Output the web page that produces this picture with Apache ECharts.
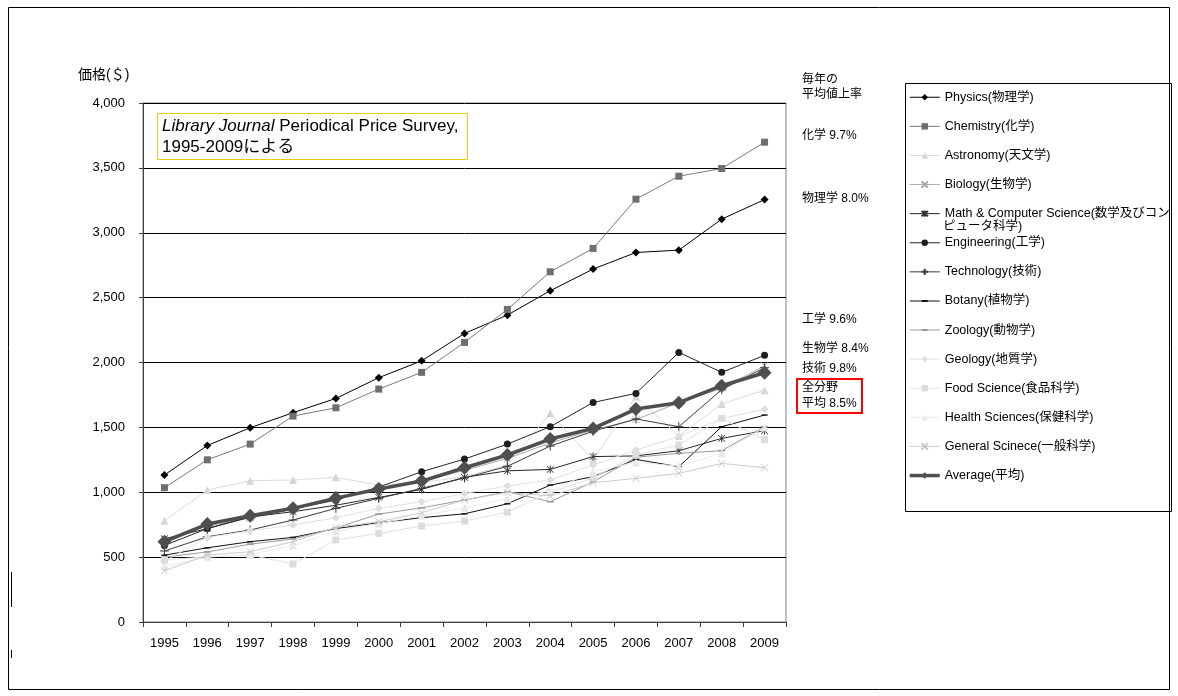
<!DOCTYPE html>
<html>
<head>
<meta charset="utf-8">
<script src="https://cdn.jsdelivr.net/npm/echarts/dist/echarts.min.js"></script>
<style>
html,body{margin:0;padding:0;background:#fff;}
#chart{width:1178px;height:696px;}
</style>
</head>
<body>
<div id="chart"></div>
<script>
// Average journal price per title, by subject (US$)
const years = ['1995','1996','1997','1998','1999','2000','2001','2002','2003','2004','2005','2006','2007','2008','2009'];
const yTicks = [0, 500, 1000, 1500, 2000, 2500, 3000, 3500, 4000];

const physics     = [1133,1360,1497,1613,1723,1883,2013,2224,2365,2553,2720,2848,2866,3105,3256];
const chemistry   = [1035,1250,1371,1587,1651,1795,1924,2155,2409,2699,2879,3259,3436,3495,3698];
const astronomy   = [781,1017,1089,1094,1115,1055,1075,1120,1210,1608,1250,1736,1433,1680,1787];
const biology     = [640,740,800,870,950,1020,1080,1170,1260,1380,1480,1560,1690,1800,1975];
const mathCs      = [640,720,810,850,900,960,1022,1115,1165,1176,1275,1280,1320,1415,1475];
const engineering = [590,720,810,870,940,1040,1158,1256,1371,1505,1692,1762,2078,1924,2055];
const technology  = [547,657,709,786,876,953,1030,1110,1200,1356,1470,1565,1505,1790,1960];
const botany      = [515,572,619,652,720,765,804,834,911,1055,1120,1253,1197,1505,1595];
const zoology     = [500,540,600,640,725,832,880,940,1004,927,1080,1270,1300,1320,1505];
const geology     = [470,652,703,747,804,876,927,990,1048,1094,1210,1325,1430,1569,1640];
const foodScience = [478,503,516,447,632,683,740,778,847,1000,1110,1287,1364,1569,1405];
const health      = [430,500,520,590,700,760,820,880,950,1010,1160,1230,1202,1300,1500];
const generalSci  = [395,516,542,619,730,773,842,940,999,971,1073,1107,1146,1222,1189];
const average     = [619,755,819,876,955,1025,1086,1189,1287,1410,1492,1641,1690,1821,1921];

const names = ['Physics(物理学)','Chemistry(化学)','Astronomy(天文学)','Biology(生物学)',
  'Math & Computer Science(数学及びコンピュータ科学)','Engineering(工学)','Technology(技術)',
  'Botany(植物学)','Zoology(動物学)','Geology(地質学)','Food Science(食品科学)',
  'Health Sciences(保健科学)','General Scinece(一般科学)','Average(平均)'];
const values = [physics,chemistry,astronomy,biology,mathCs,engineering,technology,
  botany,zoology,geology,foodScience,health,generalSci,average];

// marker shapes
const X_MARK = 'path://M0,0L10,10M10,0L0,10';
const STAR_MARK = 'path://M0,0L10,10M10,0L0,10M5,-1L5,11';
const PLUS_MARK = 'path://M5,0L5,10M0,5L10,5';
const DASH_MARK = 'path://M0,0L10,0L10,2.4L0,2.4Z';
// legend icon for dash markers: 30x8 box holding a line with a short bar on it
const DASH_LEGEND = 'path://M0,0L0.02,0L0,0.02ZM0,3.5L30,3.5L30,4.5L0,4.5ZM12,3L18,3L18,5L12,5ZM30,8L29.98,8L30,7.98Z';

// per-series drawing style: line colour, line width, symbol, size, fill, stroke
const styles = [
  {c:'#000000', w:1, s:'diamond', z:8, fill:'#000000'},
  {c:'#7a7a7a', w:1, s:'rect', z:7, fill:'#6e6e6e'},
  {c:'#dcdcdc', w:1, s:'triangle', z:8, fill:'#d6d6d6'},
  {c:'#ababab', w:1, s:X_MARK, z:7, stroke:'#a8a8a8'},
  {c:'#262626', w:1, s:STAR_MARK, z:8, stroke:'#333333'},
  {c:'#262626', w:1, s:'circle', z:7, fill:'#1e1e1e'},
  {c:'#3a3a3a', w:1, s:PLUS_MARK, z:9, stroke:'#3a3a3a'},
  {c:'#111111', w:1, s:DASH_MARK, z:6, fill:'#111111', legendIcon:DASH_LEGEND},
  {c:'#9a9a9a', w:1, s:DASH_MARK, z:7, fill:'#9a9a9a', legendIcon:DASH_LEGEND},
  {c:'#e2e2e2', w:1, s:'diamond', z:8, fill:'#dedede'},
  {c:'#e2e2e2', w:1, s:'rect', z:7, fill:'#dcdcdc'},
  {c:'#ececec', w:1, s:'triangle', z:8, fill:'#e8e8e8'},
  {c:'#cccccc', w:1, s:X_MARK, z:7, stroke:'#c6c6c6'},
  {c:'#4f4f4f', w:3.5, s:'diamond', z:14, fill:'#4f4f4f'}
];

const FONT = '"Liberation Sans", Arial, "Noto Sans CJK JP", sans-serif';
const LEGEND_FONT = 12.5;
const MATH_LEGEND = 'Math & Computer Science(数学及びコン';

const series = names.map((name, i) => {
  const st = styles[i];
  const itemStyle = st.stroke
    ? {color: 'rgba(0,0,0,0)', borderColor: st.stroke, borderWidth: 1}
    : {color: st.fill, borderColor: st.fill, borderWidth: 0};
  return {
    name: name,
    type: 'line',
    data: values[i],
    symbol: st.s,
    symbolSize: st.z,
    symbolKeepAspect: true,
    showSymbol: true,
    lineStyle: {color: st.c, width: st.w},
    itemStyle: itemStyle,
    emphasis: {disabled: true},
    z: 2 + i
  };
});

const legendData = names.map((name, i) => {
  const item = {name: name};
  if (styles[i].legendIcon) {
    item.icon = styles[i].legendIcon;
    item.itemStyle = {color: styles[i].fill, borderWidth: 0};
  }
  return item;
});

const rightNotes = [
  {t:'毎年の', y:80},
  {t:'平均値上率', y:95},
  {t:'化学 9.7%', y:136},
  {t:'物理学 8.0%', y:199},
  {t:'工学 9.6%', y:320},
  {t:'生物学 8.4%', y:349},
  {t:'技術 9.8%', y:369},
  {t:'全分野', y:388},
  {t:'平均 8.5%', y:404}
];

const graphics = [
  // outer frame
  {type:'rect', shape:{x:8.5, y:7.5, width:1161, height:682}, style:{fill:'none', stroke:'#000', lineWidth:1}, silent:true},
  {type:'line', shape:{x1:11.5, y1:572, x2:11.5, y2:607}, style:{stroke:'#000', lineWidth:1}},
  {type:'line', shape:{x1:11.5, y1:650, x2:11.5, y2:658}, style:{stroke:'#000', lineWidth:1}},
  // axis unit
  {type:'text', left:78, top:68, style:{text:'価格(＄)', font:'14px ' + FONT, fill:'#000'}},
  // source note
  {type:'rect', shape:{x:157.5, y:113.5, width:310, height:46}, style:{fill:'#fff', stroke:'#f2c811', lineWidth:1}, z:50},
  {type:'text', x:162, y:116, z:51, style:{
    text:'{i|Library Journal} Periodical Price Survey,\n1995-2009による',
    font:'17px ' + FONT, fill:'#000', lineHeight:21,
    rich:{i:{fontStyle:'italic', fontSize:17, fontFamily:FONT, lineHeight:21}}
  }},
  // legend frame
  {type:'rect', shape:{x:905.5, y:83.5, width:266, height:428}, style:{fill:'none', stroke:'#000', lineWidth:1}},
  {type:'text', x:943, y:227, style:{text:'ピュータ科学)', font:LEGEND_FONT + 'px ' + FONT, fill:'#000', verticalAlign:'middle'}},
  // highlighted overall average
  {type:'rect', shape:{x:797, y:379, width:65, height:34}, style:{fill:'none', stroke:'#ff0000', lineWidth:2}}
];
rightNotes.forEach(n => {
  graphics.push({type:'text', x:802, y:n.y, style:{text:n.t, font:'12px ' + FONT, fill:'#000', verticalAlign:'middle'}});
});

const chart = echarts.init(document.getElementById('chart'), null, {renderer:'canvas'});
chart.setOption({
  animation: false,
  backgroundColor: '#fff',
  textStyle: {fontFamily: FONT},
  grid: {left:143, top:103, right:392, bottom:74, show:true, borderColor:'#808080', borderWidth:1, backgroundColor:'transparent'},
  legend: {
    orient: 'vertical',
    left: 908,
    top: 91,
    itemWidth: 30,
    itemHeight: 8,
    itemGap: 16.6,
    padding: 0,
    data: legendData,
    formatter: n => n.indexOf('Math') === 0 ? MATH_LEGEND : n,
    textStyle: {fontSize: LEGEND_FONT, color:'#000', fontFamily: FONT},
    lineStyle: {width: 'inherit'},
    selectedMode: false
  },
  xAxis: {
    type: 'category',
    data: years,
    boundaryGap: true,
    axisLine: {lineStyle:{color:'#404040', width:1}},
    axisTick: {show:true, length:5, lineStyle:{color:'#404040'}},
    axisLabel: {fontSize:13, color:'#000', margin:15, fontFamily: FONT}
  },
  yAxis: {
    type: 'value',
    min: yTicks[0],
    max: yTicks[yTicks.length - 1],
    interval: yTicks[1] - yTicks[0],
    axisLine: {show:true, lineStyle:{color:'#404040', width:1}},
    axisTick: {show:true, length:4, lineStyle:{color:'#404040'}},
    splitLine: {show:true, lineStyle:{color:'#000', width:1}},
    axisLabel: {fontSize:13, color:'#000', margin:18, fontFamily: FONT,
      formatter: v => v.toLocaleString('en-US')}
  },
  series: series,
  graphic: graphics
});
</script>
</body>
</html>
